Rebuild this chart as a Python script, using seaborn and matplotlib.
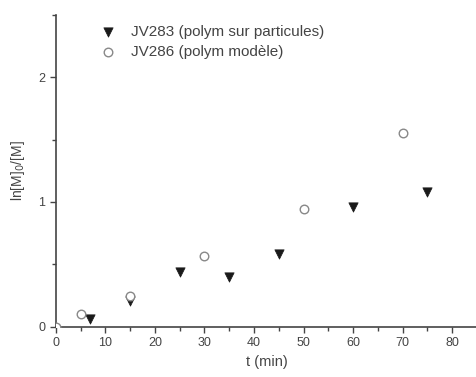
import numpy as np
import pandas as pd
import matplotlib
matplotlib.use('Agg')
import matplotlib.pyplot as plt
import seaborn as sns
from matplotlib.ticker import MultipleLocator

# données
t_jv283 = [7, 15, 25, 35, 45, 60, 75]
y_jv283 = [0.06, 0.21, 0.44, 0.40, 0.58, 0.96, 1.08]
t_jv286 = [0, 5, 15, 30, 50, 70]
y_jv286 = [0.0, 0.10, 0.25, 0.57, 0.94, 1.55]
lab_jv283 = 'JV283 (polym sur particules)'
lab_jv286 = 'JV286 (polym modèle)'

sns.set_style('ticks')
plt.rcParams['font.family'] = ['Liberation Sans', 'DejaVu Sans']
gris = '#444444'

fig = plt.figure(figsize=(4.77, 3.77), dpi=100)
ax = fig.add_axes([0.117, 0.133, 0.883, 0.828])

sns.scatterplot(x=t_jv283, y=y_jv283, marker='v', s=45, color='#1a1a1a',
                edgecolor='#1a1a1a', linewidth=0.5, label=lab_jv283,
                ax=ax, zorder=4)
sns.scatterplot(x=t_jv286, y=y_jv286, marker='o', s=38, color='white',
                edgecolor='#888888', linewidth=1.0, label=lab_jv286,
                ax=ax, zorder=4)

ax.set_xlim(0, 85)
ax.set_ylim(0, 2.5)
ax.xaxis.set_major_locator(MultipleLocator(10))
ax.xaxis.set_minor_locator(MultipleLocator(5))
ax.yaxis.set_major_locator(MultipleLocator(1))
ax.yaxis.set_minor_locator(MultipleLocator(0.5))
ax.tick_params(which='both', direction='out', colors=gris, labelsize=9,
               width=1.0)
ax.tick_params(which='major', length=4)
ax.tick_params(which='minor', length=3)
for s in ['left', 'bottom']:
    ax.spines[s].set_color(gris)
    ax.spines[s].set_linewidth(1.2)
ax.spines['top'].set_visible(False)
ax.spines['right'].set_visible(False)

ax.set_xlabel('t (min)', fontsize=10.5, color=gris, labelpad=4)
ax.set_ylabel(r'ln[M]$_0$/[M]', fontsize=10, color=gris, labelpad=8)

leg = ax.legend(loc='upper left', bbox_to_anchor=(0.055, 1.01),
                frameon=False, fontsize=11, handletextpad=0.5,
                labelspacing=0.4, labelcolor=gris)

fig.savefig('out.png', dpi=100)
